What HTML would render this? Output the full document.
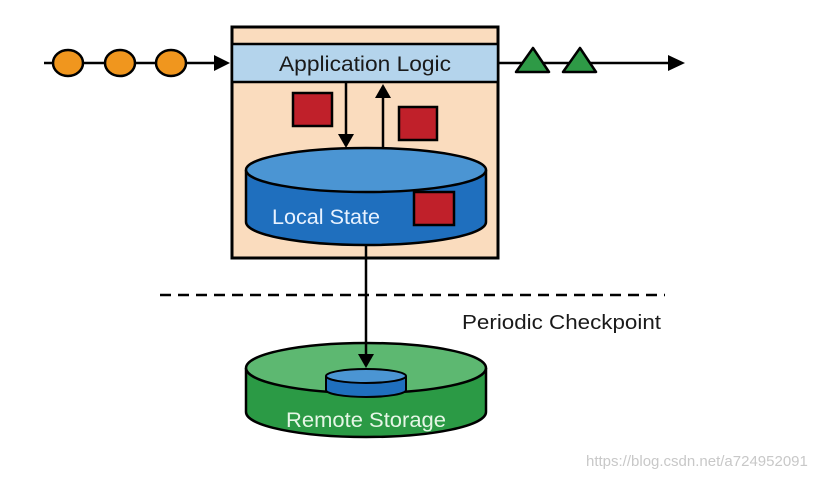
<!DOCTYPE html>
<html><head><meta charset="utf-8"><style>
html,body{margin:0;padding:0;background:#fff;}
svg{display:block;}
text{font-family:"Liberation Sans",sans-serif;}
</style></head><body>
<svg width="828" height="478" viewBox="0 0 828 478" xmlns="http://www.w3.org/2000/svg">
<line x1="44" y1="63" x2="218" y2="63" stroke="#000" stroke-width="2.5"/>
<polygon points="214,55 230,63 214,71" fill="#000"/>
<g fill="#f0961e" stroke="#000" stroke-width="2.5">
<ellipse cx="68" cy="63" rx="15" ry="13"/>
<ellipse cx="120" cy="63" rx="15" ry="13"/>
<ellipse cx="171" cy="63" rx="15" ry="13"/>
</g>
<line x1="498" y1="63" x2="672" y2="63" stroke="#000" stroke-width="2.5"/>
<polygon points="668,55 685,63 668,71" fill="#000"/>
<g fill="#2e9a46" stroke="#000" stroke-width="2.5" stroke-linejoin="round">
<polygon points="533,48 549,72 516,72"/>
<polygon points="580,48 596,72 563,72"/>
</g>
<rect x="232" y="27" width="266" height="231" fill="#fadcbe" stroke="#000" stroke-width="3"/>
<rect x="232" y="44" width="266" height="38" fill="#b4d4ec" stroke="#000" stroke-width="2.5"/>
<text x="365" y="71" font-size="21" text-anchor="middle" fill="#1a1a1a" textLength="172" lengthAdjust="spacingAndGlyphs">Application Logic</text>
<g fill="#c0202a" stroke="#000" stroke-width="2.5">
<rect x="293" y="93" width="39" height="33"/>
<rect x="399" y="107" width="38" height="33"/>
</g>
<line x1="346" y1="82" x2="346" y2="136" stroke="#000" stroke-width="2.5"/>
<polygon points="338,134 354,134 346,148" fill="#000"/>
<line x1="383" y1="150" x2="383" y2="96" stroke="#000" stroke-width="2.5"/>
<polygon points="375,98 391,98 383,84" fill="#000"/>
<path d="M246,170 L246,222 A120,23 0 0 0 486,222 L486,170" fill="#1f6fbe" stroke="#000" stroke-width="2.5"/>
<ellipse cx="366" cy="170" rx="120" ry="22" fill="#4b95d3" stroke="#000" stroke-width="2.5"/>
<text x="272" y="224" font-size="21" fill="#e8f2ff" textLength="108" lengthAdjust="spacingAndGlyphs">Local State</text>
<rect x="414" y="192" width="40" height="33" fill="#c0202a" stroke="#000" stroke-width="2.5"/>
<line x1="160" y1="295" x2="665" y2="295" stroke="#000" stroke-width="2.5" stroke-dasharray="11,7"/>
<text x="462" y="329" font-size="20" fill="#1a1a1a" textLength="199" lengthAdjust="spacingAndGlyphs">Periodic Checkpoint</text>
<path d="M246,368 L246,412 A120,25 0 0 0 486,412 L486,368" fill="#2b9a45" stroke="#000" stroke-width="2.5"/>
<ellipse cx="366" cy="368" rx="120" ry="25" fill="#5db871" stroke="#000" stroke-width="2.5"/>
<line x1="366" y1="245" x2="366" y2="356" stroke="#000" stroke-width="2.5"/>
<polygon points="358,354 374,354 366,368" fill="#000"/>
<path d="M326,376 L326,390 A40,7 0 0 0 406,390 L406,376" fill="#1f6fbe" stroke="#000" stroke-width="2"/>
<ellipse cx="366" cy="376" rx="40" ry="7" fill="#4b95d3" stroke="#000" stroke-width="2"/>
<text x="366" y="427" font-size="21" text-anchor="middle" fill="#e6f6e6" textLength="160" lengthAdjust="spacingAndGlyphs">Remote Storage</text>
<text x="586" y="466" font-size="15" fill="#c8c8c8">https://blog.csdn.net/a724952091</text>
</svg>
</body></html>
